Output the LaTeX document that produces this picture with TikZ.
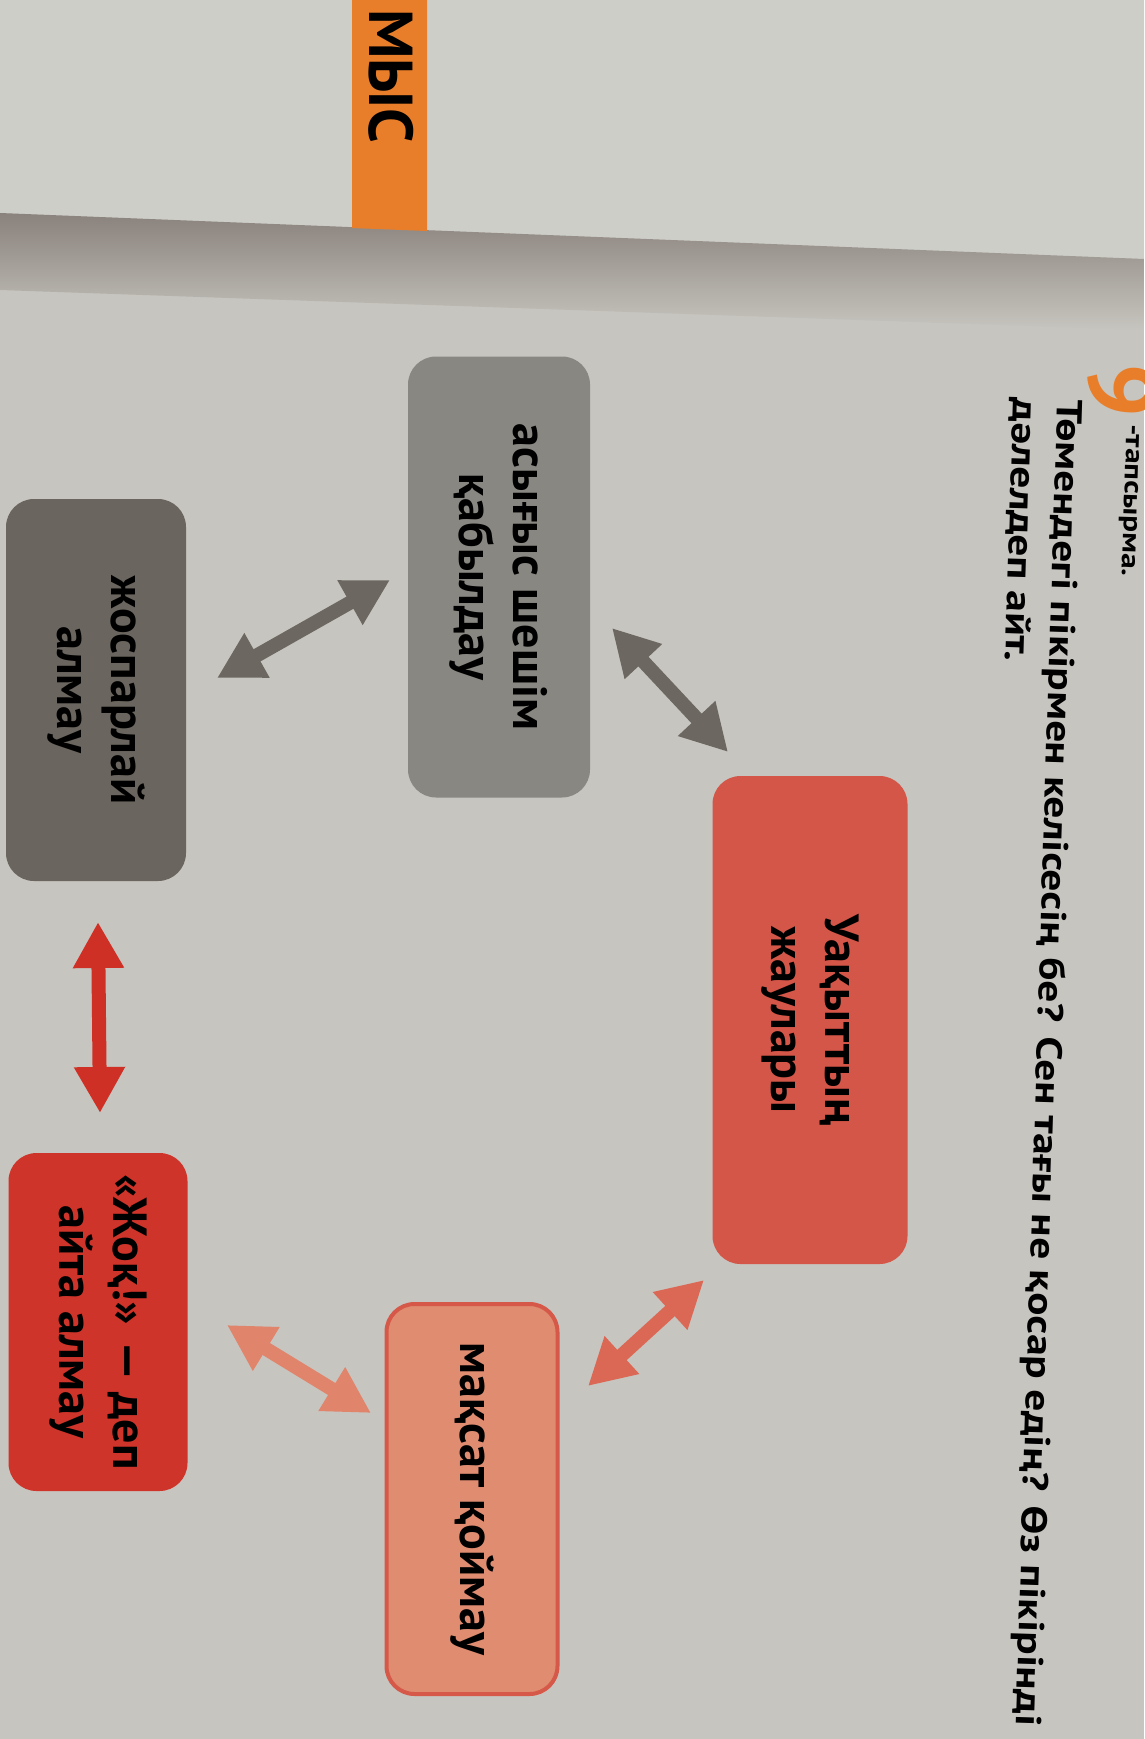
\documentclass[tikz,border=0pt]{standalone}
\usepackage{fontspec}
\setmainfont{PT Sans}
\newfontfamily\headfont[FakeStretch=1.2]{PT Sans}
\usetikzlibrary{
	positioning,
	arrows.meta,
	calc
}
\definecolor{PageGray}{RGB}{199,197,191}
\definecolor{UpperPage}{RGB}{206,206,200}
\definecolor{ShadowGray}{RGB}{138,130,124}
\definecolor{TabOrange}{RGB}{233,126,42}
\definecolor{AsygGray}{RGB}{137,135,129}
\definecolor{JospGray}{RGB}{106,101,94}
\definecolor{UakRed}{RGB}{211,86,72}
\definecolor{MaksSalmon}{RGB}{223,140,113}
\definecolor{MaksEdge}{RGB}{214,88,72}
\definecolor{ZhokRed}{RGB}{207,52,42}
\definecolor{ArrowGray}{RGB}{108,103,97}
\definecolor{ArrowRed}{RGB}{206,48,38}
\definecolor{ArrowSalmon}{RGB}{224,132,108}
\definecolor{ArrowCoral}{RGB}{219,104,84}

\tikzset{
	cardbox/.style={
		rectangle,
		rounded corners=28pt,
		rotate=-90,
		align=center,
		inner sep=0pt,
		font=\fontsize{48}{54}\selectfont\bfseries
	},
	twoway/.style={
		line width=14pt,
		{Triangle[length=46pt,width=48pt]}-{Triangle[length=46pt,width=48pt]}
	}
}

\begin{document}
\begin{tikzpicture}[x=1pt,y=-1pt]
				
				\useasboundingbox (0,0) rectangle (1144,1739);
				\clip (0,0) rectangle (1144,1739);
				
				% pages
				\fill[PageGray] (0,0) rectangle (1144,1739);
				\fill[UpperPage] (0,0) -- (1144,0) -- (1144,259) -- (0,213) -- cycle;
				\shade[
				top color=ShadowGray,
				bottom color=PageGray
				]
				(0,213) -- (1144,259) -- (1144,330) -- (0,290) -- cycle;
				
				% orange tab
				\fill[TabOrange] (352,0) -- (427,0) -- (427,231) -- (352,228) -- cycle;
				\node[
				rotate=-90,
				font=\fontsize{62}{62}\selectfont\bfseries
				]
				(tab) at (391,76) {МЫС};
				
				% task heading
				\node[
				text=TabOrange,
				rotate=-91.8,
				font=\fontsize{95}{95}\selectfont\bfseries
				]
				(num) at (1122,390) {9};
				\node[
				anchor=west,
				rotate=-91.8,
				inner sep=0pt,
				font=\headfont\fontsize{26}{30}\selectfont\bfseries
				]
				(task) at (1131,424) {-тапсырма.};
				\node[
				anchor=north west,
				rotate=-91.8,
				align=left,
				inner sep=0pt,
				font=\headfont\fontsize{36}{44}\selectfont\bfseries
				]
				(question) at (1084,400)
				{Төмендегі пікірмен келісесің бе? Сен тағы не қосар едің? Өз пікірінді\\
					дәлелдеп айт.};
				
				% cards
				\node[cardbox, fill=AsygGray, minimum width=441pt, minimum height=182pt]
				(asyg) at (499,577) {асығыс шешім\\қабылдау};
				\node[cardbox, fill=JospGray, minimum width=382pt, minimum height=180pt]
				(josp) at (96,690) {жоспарлай\\алмау};
				\node[cardbox, fill=UakRed, minimum width=488pt, minimum height=195pt]
				(uak) at (810,1020) {Уақыттың\\жаулары};
				\node[cardbox, fill=MaksSalmon, draw=MaksEdge, line width=4pt,
				minimum width=390pt, minimum height=171pt]
				(maks) at (472,1499) {мақсат қоймау};
				\node[cardbox, fill=ZhokRed, minimum width=338pt, minimum height=179pt]
				(zhok) at (98,1322) {«Жоқ!» — деп\\айта алмау};
				
				% arrows
				\draw[twoway, ArrowGray] ($(josp)+(121,-12)$) -- ($(asyg)+(-109,3)$);
				\draw[twoway, ArrowGray] ($(asyg)+(113,51)$) -- ($(uak)+(-82,-268)$);
				\draw[twoway, ArrowRed] ($(josp)+(2,232)$) -- ($(zhok)+(2,-209)$);
				\draw[twoway, ArrowSalmon] ($(zhok)+(129,3)$) -- ($(maks)+(-101,-86)$);
				\draw[twoway, ArrowCoral] ($(maks)+(116,-113)$) -- ($(uak)+(-106,260)$);
				
			\end{tikzpicture}
\end{document}
